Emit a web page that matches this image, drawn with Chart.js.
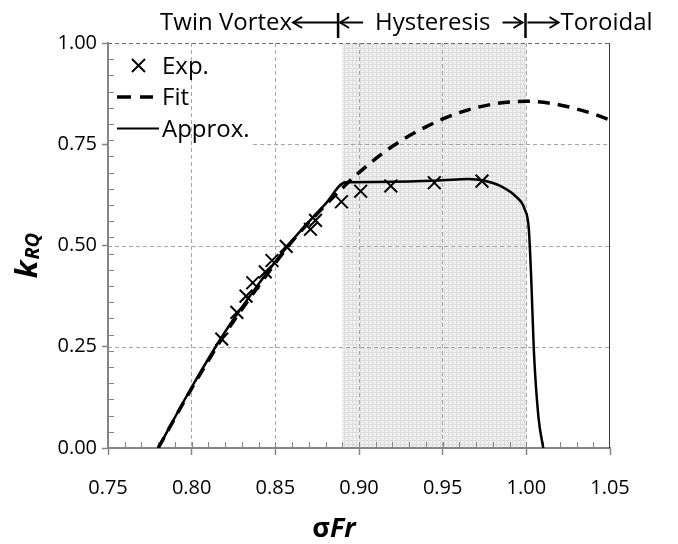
<!DOCTYPE html>
<html>
<head>
<meta charset="utf-8">
<script src="https://cdn.jsdelivr.net/npm/chart.js@4.4.1/dist/chart.umd.min.js"></script>
<style>
  html, body { margin: 0; padding: 0; background: #fff; }
  #wrap { width: 678px; height: 544px; position: relative; }
</style>
</head>
<body>
<div id="wrap"><canvas id="chart"></canvas></div>
<script>
// Exp. points (sigma*Fr, k_RQ)
const expX = [0.818, 0.827, 0.8325, 0.8365, 0.844, 0.848, 0.8565, 0.871, 0.874, 0.8895, 0.901, 0.919, 0.945, 0.9735];
const expY = [0.269, 0.335, 0.375, 0.408, 0.435, 0.463, 0.498, 0.540, 0.562, 0.608, 0.634, 0.647, 0.655, 0.659];

// Fit curve (dashed)
const fitX = [0.78, 0.80, 0.82, 0.84, 0.86, 0.88, 0.90, 0.92, 0.94, 0.96, 0.98, 1.00, 1.02, 1.04, 1.05];
const fitY = [0.0, 0.147, 0.282, 0.40, 0.51, 0.60, 0.68, 0.745, 0.793, 0.828, 0.849, 0.856, 0.847, 0.825, 0.81];

// Approx. curve (solid)
const appX = [0.78, 0.80, 0.82, 0.84, 0.86, 0.88, 0.892, 0.91, 0.93, 0.95, 0.965, 0.975, 0.985, 0.994, 0.999, 1.0015, 1.003, 1.0045, 1.0072, 1.0101];
const appY = [0.0, 0.15, 0.287, 0.405, 0.512, 0.603, 0.656, 0.657, 0.658, 0.661, 0.664, 0.66, 0.646, 0.62, 0.59, 0.54, 0.41, 0.24, 0.078, 0.0];

const xTickValues = [0.75, 0.80, 0.85, 0.90, 0.95, 1.00, 1.05];
const yTickValues = [0.00, 0.25, 0.50, 0.75, 1.00];
const hysteresis = [0.89, 1.00];
const regionBars = [0.8875, 0.9995];
const regionNames = ['Twin Vortex', 'Hysteresis', 'Toroidal'];
const seriesNames = ['Exp.', 'Fit', 'Approx.'];

const FONT = "'Open Sans', 'Liberation Sans', sans-serif";
const AXIS = '#868686';
const GRID = '#a6a6a6';

function pts(xs, ys) { return xs.map((v, i) => ({x: v, y: ys[i]})); }

let bandFill = null;
function getBand(ctx) {
  if (bandFill) return bandFill;
  const c = document.createElement('canvas');
  c.width = 4; c.height = 4;
  const g = c.getContext('2d');
  g.fillStyle = '#efefef'; g.fillRect(0, 0, 4, 4);
  g.fillStyle = '#dddddd'; g.fillRect(0, 0, 4, 1); g.fillRect(0, 0, 1, 4);
  bandFill = ctx.createPattern(c, 'repeat');
  return bandFill;
}

// legend area inside the plot (hides the 0.75 grid line left part)
function legendRect(a) {
  return {left: a.left, right: a.left + 145, top: a.top, bottom: a.top + 104};
}

const backdrop = {
  id: 'backdrop',
  beforeDraw(chart) {
    const {ctx, chartArea: a, scales: {x, y}} = chart;
    const x0 = x.getPixelForValue(hysteresis[0]);
    const x1 = x.getPixelForValue(hysteresis[1]);
    ctx.save();
    ctx.fillStyle = getBand(ctx);
    ctx.fillRect(x0, a.top, x1 - x0, a.bottom - a.top);

    const lg = legendRect(a);
    ctx.lineWidth = 1;
    ctx.setLineDash([4, 3]);
    yTickValues.forEach(v => {
      if (v === 0) return;
      const py = Math.round(y.getPixelForValue(v)) + 0.5;
      let left = a.left;
      if (py > lg.top + 2 && py < lg.bottom) left = lg.right;
      ctx.strokeStyle = v === 1 ? '#6a6a6a' : GRID;
      ctx.beginPath();
      ctx.moveTo(left, py);
      ctx.lineTo(a.right, py);
      ctx.stroke();
    });
    ctx.restore();
  },
  beforeDatasetsDraw(chart) {
    const {ctx, chartArea: a, scales: {x, y}} = chart;
    ctx.save();
    // minor ticks, inside the plot
    ctx.strokeStyle = AXIS;
    ctx.lineWidth = 1;
    for (let v = 0.76; v < 1.05; v += 0.01) {
      const px = Math.round(x.getPixelForValue(v)) + 0.5;
      ctx.beginPath(); ctx.moveTo(px, a.bottom); ctx.lineTo(px, a.bottom - 6); ctx.stroke();
    }
    for (let v = 0.04; v < 1; v += 0.04) {
      const py = Math.round(y.getPixelForValue(v)) + 0.5;
      ctx.beginPath(); ctx.moveTo(a.left, py); ctx.lineTo(a.left + 6, py); ctx.stroke();
    }
    // right edge of plot area
    ctx.strokeStyle = '#3a3a3a';
    ctx.beginPath();
    ctx.moveTo(Math.round(a.right) - 0.5, a.top);
    ctx.lineTo(Math.round(a.right) - 0.5, a.bottom);
    ctx.stroke();
    ctx.restore();
  }
};

function arrow(ctx, from, to, yy) {
  const d = Math.sign(to - from);
  ctx.beginPath(); ctx.moveTo(from, yy); ctx.lineTo(to, yy); ctx.stroke();
  ctx.beginPath();
  ctx.moveTo(to - d * 9, yy - 5.5);
  ctx.lineTo(to, yy);
  ctx.lineTo(to - d * 9, yy + 5.5);
  ctx.stroke();
}

const overlay = {
  id: 'overlay',
  afterDraw(chart) {
    const {ctx, chartArea: a, scales: {x}} = chart;
    const ds = chart.data.datasets;
    ctx.save();

    // legend
    const lg = legendRect(a);
    const rows = [a.top + 30.5, a.top + 62, a.top + 93.5];
    ctx.font = '24px ' + FONT;
    ctx.fillStyle = '#000';
    ctx.textAlign = 'left';
    ctx.textBaseline = 'alphabetic';
    ds.forEach((d, i) => {
      const cy = rows[i] - 8;
      ctx.strokeStyle = '#000';
      ctx.setLineDash([]);
      if (i === 0) {
        ctx.lineWidth = 2;
        ctx.beginPath();
        ctx.moveTo(lg.left + 24, cy - 6.5); ctx.lineTo(lg.left + 37, cy + 6.5);
        ctx.moveTo(lg.left + 37, cy - 6.5); ctx.lineTo(lg.left + 24, cy + 6.5);
        ctx.stroke();
      } else if (i === 1) {
        ctx.lineWidth = 3.5;
        ctx.beginPath();
        ctx.moveTo(lg.left + 9, cy); ctx.lineTo(lg.left + 23, cy);
        ctx.moveTo(lg.left + 32, cy); ctx.lineTo(lg.left + 45, cy);
        ctx.stroke();
      } else {
        ctx.lineWidth = 2.2;
        ctx.beginPath();
        ctx.moveTo(lg.left + 9, cy); ctx.lineTo(lg.left + 51, cy);
        ctx.stroke();
      }
      ctx.fillText(d.label, lg.left + 54, rows[i]);
    });

    // regime header above the plot
    const b1 = x.getPixelForValue(regionBars[0]);
    const b2 = x.getPixelForValue(regionBars[1]);
    const hy = 22.5;
    ctx.font = '24px ' + FONT;
    ctx.textBaseline = 'alphabetic';
    ctx.textAlign = 'right';
    ctx.fillText(regionNames[0], b1 - 46, 30);
    ctx.textAlign = 'left';
    ctx.fillText(regionNames[1], b1 + 37, 30);
    ctx.fillText(regionNames[2], b2 + 35, 30);
    ctx.lineWidth = 2;
    arrow(ctx, b1, b1 - 45, hy);
    arrow(ctx, b1 + 25, b1 + 2, hy);
    arrow(ctx, b2 - 23, b2 - 3, hy);
    arrow(ctx, b2 + 2, b2 + 33, hy);
    ctx.lineWidth = 2.5;
    [b1, b2].forEach(b => {
      ctx.beginPath(); ctx.moveTo(b, 13); ctx.lineTo(b, 38); ctx.stroke();
    });

    // x title: sigma Fr
    const f1 = 'bold 27px ' + FONT;
    const f2 = 'italic bold 27px ' + FONT;
    ctx.font = f1; const w1 = ctx.measureText('σ').width;
    ctx.font = f2; const w2 = ctx.measureText('Fr').width;
    let tx = 334 - (w1 + w2) / 2;
    ctx.textAlign = 'left';
    ctx.font = f1; ctx.fillText('σ', tx, 537);
    ctx.font = f2; ctx.fillText('Fr', tx + w1, 537);

    // y title: k_RQ
    const k1 = 'italic bold 31px ' + FONT;
    const k2 = 'italic bold 20px ' + FONT;
    ctx.font = k1; const kw = ctx.measureText('k').width;
    ctx.font = k2; const sw = ctx.measureText('RQ').width;
    ctx.translate(36.5, 256 + (kw + sw) / 2);
    ctx.rotate(-Math.PI / 2);
    ctx.font = k1; ctx.fillText('k', 0, 0);
    ctx.font = k2; ctx.fillText('RQ', kw + 1, 2);
    ctx.restore();
  }
};

new Chart(document.getElementById('chart'), {
  type: 'scatter',
  data: {
    datasets: [{
      label: seriesNames[0],
      data: pts(expX, expY),
      showLine: false,
      pointStyle: 'crossRot',
      pointRadius: 9,
      pointBorderWidth: 2,
      borderColor: '#000',
      backgroundColor: '#000'
    }, {
      label: seriesNames[1],
      data: pts(fitX, fitY),
      showLine: true,
      borderColor: '#000',
      borderWidth: 3.5,
      borderDash: [12, 8],
      pointRadius: 0,
      cubicInterpolationMode: 'monotone'
    }, {
      label: seriesNames[2],
      data: pts(appX, appY),
      showLine: true,
      borderColor: '#000',
      borderWidth: 2.5,
      pointRadius: 0,
      cubicInterpolationMode: 'monotone'
    }]
  },
  options: {
    responsive: true,
    maintainAspectRatio: false,
    animation: false,
    layout: { padding: { left: 0, right: 68, top: 43, bottom: 0 } },
    plugins: { legend: { display: false }, tooltip: { enabled: false } },
    scales: {
      x: {
        type: 'linear',
        min: 0.75,
        max: 1.05,
        afterBuildTicks: s => { s.ticks = xTickValues.map(v => ({value: v})); },
        afterFit: s => { s.height = 96; },
        ticks: {
          color: '#000',
          font: { family: FONT, size: 20 },
          padding: 21,
          maxRotation: 0,
          callback: v => v.toFixed(2)
        },
        grid: {
          color: c => (c.tick && (c.tick.value <= 0.75 || c.tick.value >= 1.05)) ? 'rgba(0,0,0,0)' : GRID,
          lineWidth: 1,
          tickColor: AXIS,
          tickLength: 7,
          tickWidth: 1.5
        },
        border: { color: AXIS, width: 2, dash: [4, 3] }
      },
      y: {
        type: 'linear',
        min: 0,
        max: 1,
        afterBuildTicks: s => { s.ticks = yTickValues.map(v => ({value: v})); },
        afterFit: s => { s.width = 108; },
        ticks: {
          color: '#000',
          font: { family: FONT, size: 20 },
          padding: 5,
          callback: v => v.toFixed(2)
        },
        grid: {
          drawOnChartArea: false,
          tickColor: AXIS,
          tickLength: 6,
          tickWidth: 1.5
        },
        border: { color: AXIS, width: 2 }
      }
    }
  },
  plugins: [backdrop, overlay]
});
</script>
</body>
</html>
